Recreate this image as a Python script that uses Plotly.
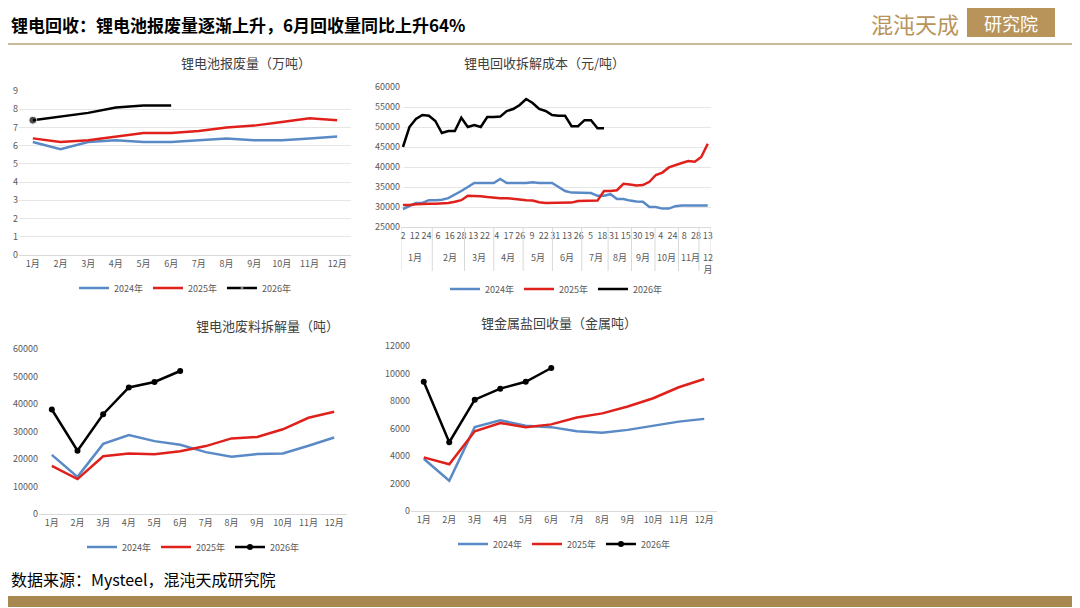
import plotly.graph_objects as go

months = [f"{i}月" for i in range(1, 13)]
scrap_2024 = [6.2,5.8,6.2,6.3,6.2,6.2,6.3,6.4,6.3,6.3,6.4,6.5]
scrap_2025 = [6.4,6.2,6.3,6.5,6.7,6.7,6.8,7.0,7.1,7.3,7.5,7.4]
scrap_2026 = [7.4,7.6,7.8,8.1,8.2,8.2]

cost_2024 = [29500,30300,31000,31000,31700,31700,31800,32200,33000,34000,35000,36000,36000,36000,36000,37000,36000,36000,36000,36000,36200,36000,36000,36000,35000,34000,33600,33600,33600,33500,32800,32800,33200,32000,32000,31600,31400,31300,30000,30000,29600,29600,30200,30400,30400,30400,30400,30400]
cost_2025 = [30500,30500,30700,30800,30800,30800,30900,31000,31300,31700,32800,32800,32700,32500,32300,32200,32200,32000,31800,31700,31600,31200,31000,31000,31000,31000,31100,31500,31500,31600,31600,34000,34000,34200,35800,35600,35400,35500,36300,38000,38600,39900,40500,41000,41500,41300,42500,45800]
cost_2026 = [45000,50000,52000,53000,52800,51500,48500,49000,49000,52300,50000,50500,50000,52500,52500,52600,54000,54500,55500,57000,56000,54500,54000,53000,52800,52800,50200,50200,51700,51700,49700,49700]
week_labels = [["2","12","24"],["6","16","28"],["13","22"],["4","17","26"],["9","22"],["31","13","26"],["5","18"],["31","15"],["30","19"],["4","24"],["8","28"],["13"]]

dis_2024 = [21500,13500,25500,28700,26500,25200,22500,20800,21800,22000,24800,27800]
dis_2025 = [17500,12700,21000,22000,21700,22800,24700,27500,28000,30800,35000,37200]
dis_2026 = [38000,23000,36300,46000,48000,52000]

rec_2024 = [3800,2200,6100,6600,6200,6100,5800,5700,5900,6200,6500,6700]
rec_2025 = [3900,3400,5800,6400,6100,6300,6800,7100,7600,8200,9000,9600]
rec_2026 = [9400,5000,8100,8900,9400,10400]

BLUE = "#5A8AC6"; RED = "#E0201B"; BLACK = "#000000"
OX, OY = 9, 9
W, H = 1080 - OX, 608 - OY
def fx(p): return (p - OX) / W
def fy(p): return 1 - (p - OY) / H

fig = go.Figure()
axfont = dict(size=9, color="#595959", family="Noto Sans CJK SC")
panels = [
    ("", (20, 352), (92, 256), "legend", 33),
    ("2", (402, 712), (88, 228), "legend2", 62),
    ("3", (40, 348), (350, 515), "legend3", 33),
    ("4", (412, 718), (347, 512), "legend4", 33),
]
data_sets = [
    (scrap_2024, scrap_2025, scrap_2026, "first"),
    (cost_2024, cost_2025, cost_2026, None),
    (dis_2024, dis_2025, dis_2026, "all"),
    (rec_2024, rec_2025, rec_2026, "all"),
]
for (s, xr, yr, lg, lo), (a, b, c, mk) in zip(panels, data_sets):
    if s == "2":
        xa = list(range(len(a))); xb = list(range(len(b))); xc = list(range(len(c)))
    else:
        xa = months[:len(a)]; xb = months[:len(b)]; xc = months[:len(c)]
    for x, y, name, col, m in [(xa, a, "2024年", BLUE, None), (xb, b, "2025年", RED, None), (xc, c, "2026年", BLACK, mk)]:
        if m == "first":
            marker = dict(size=[8] + [0] * (len(y) - 1))
        else:
            marker = dict(size=6)
        fig.add_trace(go.Scatter(x=x, y=y, name=name, mode="lines+markers" if m else "lines",
                                 line=dict(color=col, width=2.5), marker=marker,
                                 xaxis="x" + s, yaxis="y" + s, legend=lg))
    fig.layout["xaxis" + s] = dict(domain=[fx(xr[0]), fx(xr[1])], anchor="y" + s, tickfont=axfont,
                                   showline=True, linecolor="#d9d9d9", ticks="", automargin=False,
                                   range=None if s == "2" else [-0.5, 11.5])
    fig.layout["yaxis" + s] = dict(domain=[fy(yr[1]), fy(yr[0])], anchor="x" + s, tickfont=axfont,
                                   showgrid=(s in ("", "2")), gridcolor="#e6e6e6", zeroline=False, automargin=False)
    fig.layout[lg] = dict(orientation="h", x=fx((xr[0] + xr[1]) / 2), xanchor="center",
                          y=fy(yr[1] + lo), yanchor="middle",
                          font=dict(size=9, color="#595959"), bgcolor="rgba(0,0,0,0)")

fig.layout.yaxis.update(range=[0, 9], dtick=1)
fig.layout.yaxis2.update(range=[25000, 60000], dtick=5000, tickformat="d")
fig.layout.yaxis3.update(range=[0, 60000], dtick=10000, tickformat="d")
fig.layout.yaxis4.update(range=[0, 12000], dtick=2000, tickformat="d")

tv, tt, centers = [], [], []
n = sum(len(m) for m in week_labels)
step = 47 / (n - 1)
k = 0
for i, ml in enumerate(week_labels):
    pos = []
    for lab in ml:
        tv.append(k * step); tt.append(lab); pos.append(k * step); k += 1
    centers.append(sum(pos) / len(pos))
fig.layout.xaxis2.update(tickvals=tv, ticktext=tt, range=[-0.3, 47.5], tickangle=0)
ann = []
for i, c in enumerate(centers):
    ann.append(dict(x=c, y=fy(250), xref="x2", yref="paper", text=months[i] if i < 11 else "12<br>月",
                    showarrow=False, font=axfont, yanchor="top"))

titles = [("锂电池报废量（万吨）", 180, 64), ("锂电回收拆解成本（元/吨）", 545, 64),
          ("锂电池废料拆解量（吨）", 195, 326), ("锂金属盐回收量（金属吨）", 560, 323)]
for t, x, y in titles:
    ann.append(dict(x=fx(x), y=fy(y), xref="paper", yref="paper", text=t, showarrow=False, yanchor="middle",
                    font=dict(size=13, color="#404040", family="Noto Sans CJK SC")))
ann.append(dict(x=fx(10), y=fy(25), xref="paper", yref="paper", xanchor="left", yanchor="middle", showarrow=False,
                text="<b>锂电回收：锂电池报废量逐渐上升，6月回收量同比上升64%</b>",
                font=dict(size=17, color="#000", family="Noto Sans CJK SC")))
ann.append(dict(x=fx(10), y=fy(580), xref="paper", yref="paper", xanchor="left", yanchor="middle", showarrow=False,
                text="数据来源：Mysteel，混沌天成研究院",
                font=dict(size=16, color="#000", family="Noto Sans CJK SC")))
ann.append(dict(x=fx(962), y=fy(24), xref="paper", yref="paper", xanchor="right", yanchor="middle", showarrow=False,
                text="混沌天成", font=dict(size=22, color="#B8945A", family="Noto Sans CJK SC")))
ann.append(dict(x=fx(1012), y=fy(24), xref="paper", yref="paper", xanchor="center", yanchor="middle", showarrow=False,
                text="研究院", font=dict(size=18, color="#fff", family="Noto Sans CJK SC")))

shapes = [
    dict(type="rect", xref="paper", yref="paper", x0=fx(968), x1=fx(1056), y0=fy(38), y1=fy(9),
         fillcolor="#B8945A", line_width=0, layer="below"),
    dict(type="line", xref="paper", yref="paper", x0=0, x1=1, y0=fy(45), y1=fy(45),
         line=dict(color="#C9B99A", width=2)),
    dict(type="rect", xref="paper", yref="paper", x0=0, x1=1, y0=0, y1=fy(597),
         fillcolor="#A88850", line_width=0),
]
for i in range(13):
    xpos = -0.3 if i == 0 else (47.5 if i == 12 else (centers[i - 1] + centers[i]) / 2)
    shapes.append(dict(type="line", xref="x2", yref="paper", x0=xpos, x1=xpos, y0=fy(228), y1=fy(272),
                       line=dict(color="#d9d9d9", width=1)))

fig.update_layout(width=W, height=H, margin=dict(l=0, r=0, t=0, b=0, pad=0), plot_bgcolor="rgba(0,0,0,0)",
                  paper_bgcolor="white", annotations=ann, shapes=shapes,
                  font=dict(family="Noto Sans CJK SC"))
fig.write_html("out.html")
